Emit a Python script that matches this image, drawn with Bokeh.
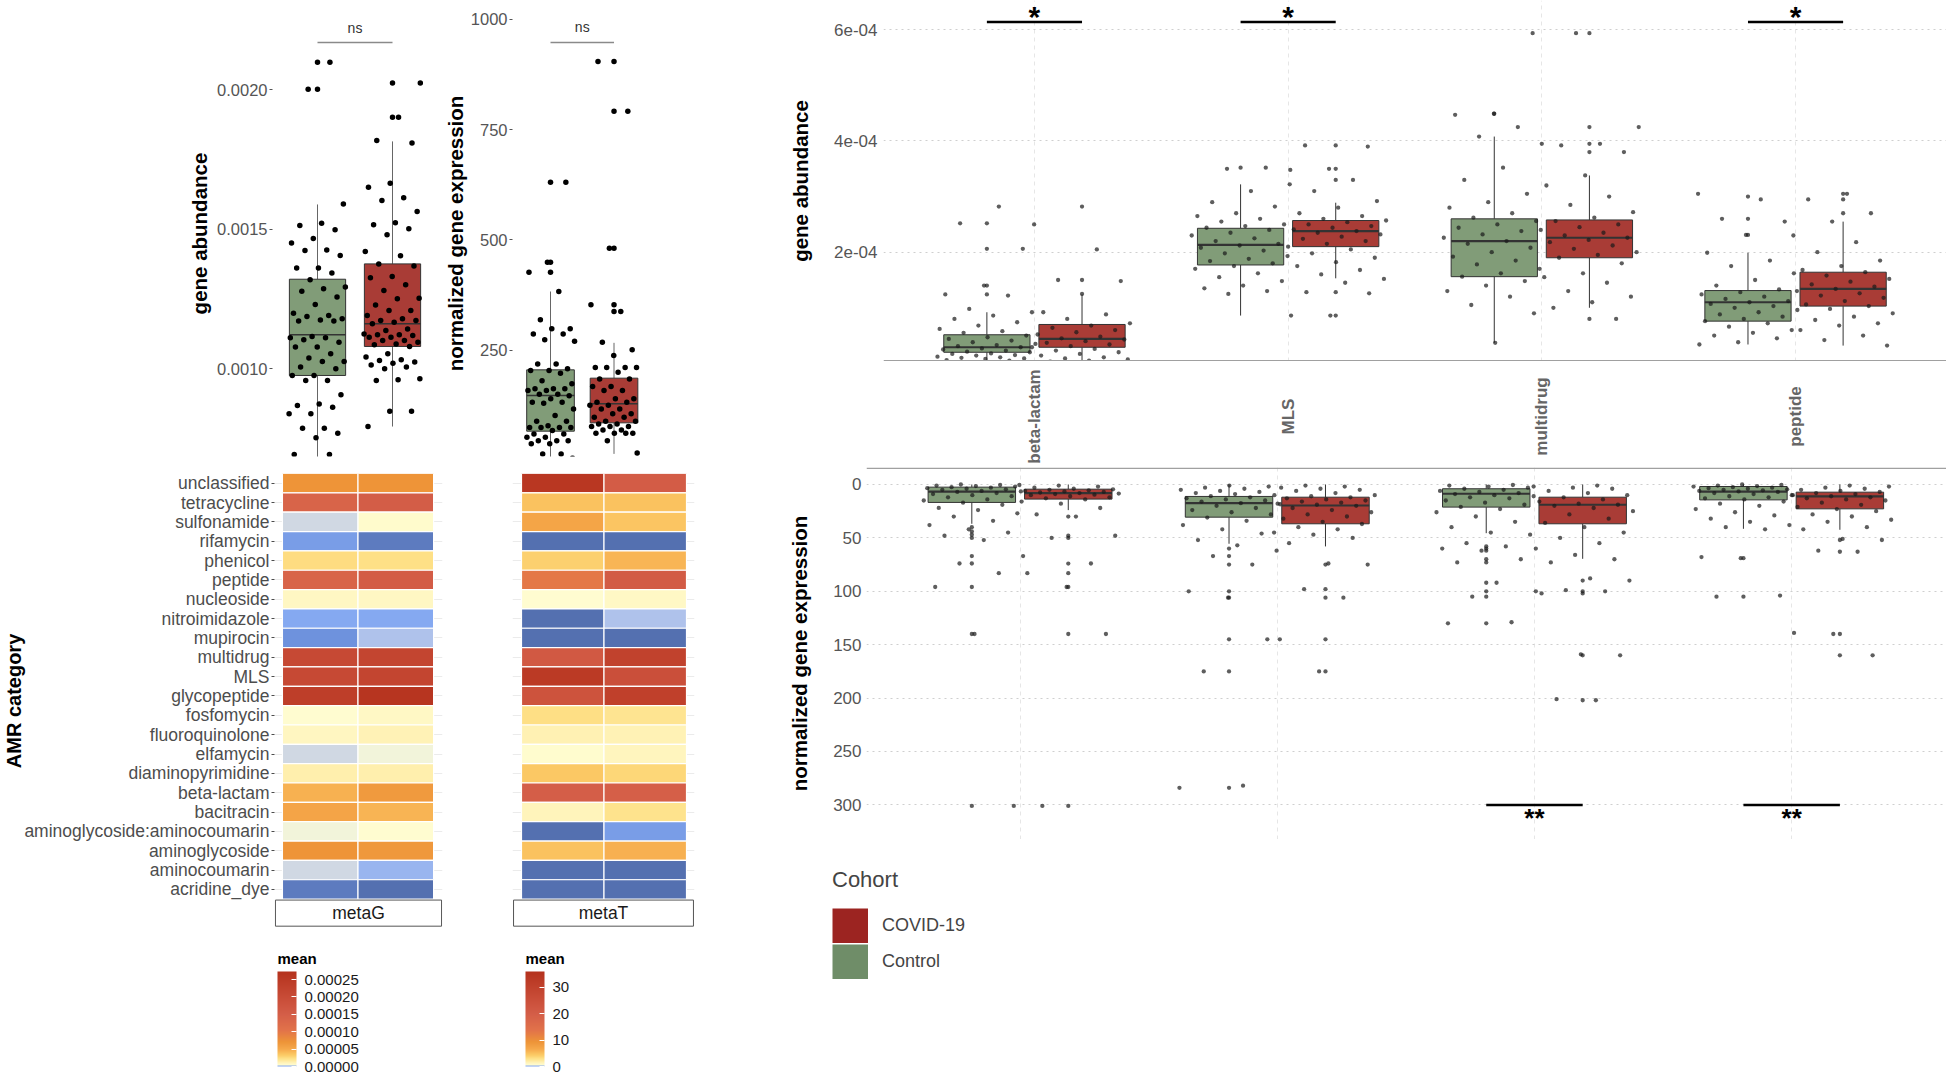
import math
from bokeh.plotting import figure
from bokeh.layouts import row, column
from bokeh.models import (Range1d, FixedTicker, LinearColorMapper, ColorBar, Legend,
                          LegendItem, PrintfTickFormatter, ColumnDataSource, Span, Grid, Label)
from bokeh.core.properties import value
from bokeh.embed import file_html
from bokeh.resources import INLINE

FONT = "Liberation Sans"

# ---------------------------------------------------------------- data
cohorts = ["Control", "COVID-19"]
box_fill = ["#819C78", "#A93C36"]
legend_title = "Cohort"
legend_labels = ["COVID-19", "Control"]
legend_swatch = ["#9C2421", "#6F8D68"]

# left top: total gene abundance (metaG)
gA_tick_values = [0.0010, 0.0015, 0.0020]
gA_tick_labels = ["0.0010", "0.0015", "0.0020"]
gA_ctrl_box = [0.00060, 0.000975, 0.001121, 0.001320, 0.001588]   # lo, q1, median, q3, hi
gA_cov_box = [0.000792, 0.001079, 0.001160, 0.001375, 0.001814]
gA_ctrl_out = [0.002098, 0.002001]
gA_cov_out = [0.002023, 0.001901]
gA_ctrl_pts = [0.002098, 0.002001, 0.001590, 0.001521, 0.001513, 0.001497, 0.001466, 0.001450,
               0.001425, 0.001423, 0.001405, 0.001360, 0.001360, 0.001342, 0.001318, 0.001292,
               0.001286, 0.001277, 0.001256, 0.001229, 0.001198, 0.001190, 0.001186, 0.001178,
               0.001174, 0.001170, 0.001170, 0.001115, 0.001110, 0.001110, 0.001103, 0.001094,
               0.001077, 0.001077, 0.001053, 0.001038, 0.001025, 0.001025, 0.001005, 0.000999,
               0.000975, 0.000975, 0.000957, 0.000957, 0.000906, 0.000873, 0.000867, 0.000861,
               0.000838, 0.000838, 0.000786, 0.000786, 0.000768, 0.000752, 0.000692, 0.000692,
               0.000650, 0.000620]
gA_cov_pts = [0.002023, 0.001901, 0.001817, 0.001808, 0.001664, 0.001650, 0.001612, 0.001602,
              0.001563, 0.001522, 0.001515, 0.001501, 0.001479, 0.001419, 0.001404, 0.001375,
              0.001367, 0.001330, 0.001325, 0.001300, 0.001280, 0.001252, 0.001250, 0.001228,
              0.001208, 0.001208, 0.001190, 0.001178, 0.001172, 0.001172, 0.001166, 0.001160,
              0.001142, 0.001136, 0.001124, 0.001121, 0.001121, 0.001118, 0.001112, 0.001112,
              0.001100, 0.001100, 0.001094, 0.001088, 0.001085, 0.001079, 0.001053, 0.001041,
              0.001031, 0.001029, 0.001023, 0.001019, 0.001013, 0.001005, 0.000999, 0.000963,
              0.000960, 0.000957, 0.000847, 0.000847, 0.000792]
gA_sig = "ns"

# left top: total normalized expression (metaT)
gB_tick_values = [250, 500, 750, 1000]
gB_ctrl_box = [0.0, 66.5, 147.4, 205.6, 383.2]
gB_cov_box = [15.0, 85.4, 128.5, 186.7, 266.8]
gB_ctrl_out = [631, 449.7, 427]
gB_cov_out = [904.8, 792, 481.5, 353, 338]
gB_ctrl_pts = [631, 449.7, 427, 383, 319, 298.5, 298.5, 287, 287, 274, 270.5, 219, 219, 208, 204,
               204, 198, 181, 174, 162.5, 162.5, 162.5, 159, 159, 150, 150, 147, 140, 132, 132, 130,
               117, 102, 89, 89, 79, 75, 75, 75, 75, 68, 60, 60, 53, 53, 45, 45, 45, 38, 38, 15, 15, 5]
gB_cov_pts = [904.8, 792, 481.5, 353, 338, 268, 251, 238, 211, 211, 211, 211, 200, 185, 185, 168,
              168, 159, 159, 140, 140, 132, 132, 125, 125, 117, 117, 106, 106, 98, 98, 89, 89, 83,
              83, 77, 77, 77, 69, 69, 62, 62, 62, 62, 45, 17]
gB_sig = "ns"

# heatmaps
amr_categories = ["unclassified", "tetracycline", "sulfonamide", "rifamycin", "phenicol", "peptide",
                  "nucleoside", "nitroimidazole", "mupirocin", "multidrug", "MLS", "glycopeptide",
                  "fosfomycin", "fluoroquinolone", "elfamycin", "diaminopyrimidine", "beta-lactam",
                  "bacitracin", "aminoglycoside:aminocoumarin", "aminoglycoside", "aminocoumarin",
                  "acridine_dye"]
facets = ["metaG", "metaT"]
metaG_mean_ctrl = [7.1e-5, 1.37e-4, 2.5e-6, 1.1e-6, 2.46e-5, 1.37e-4, 8.2e-6, 1.37e-6, 1.04e-6,
                   2.07e-4, 2.07e-4, 2.4e-4, 4.4e-6, 8.7e-6, 2.6e-6, 1.37e-5, 4.6e-5, 5.5e-5,
                   3.3e-6, 7.1e-5, 2.5e-6, 4.1e-7]
metaG_mean_cov = [7.1e-5, 1.53e-4, 5.5e-6, 4.6e-7, 2.3e-5, 1.56e-4, 8.0e-6, 1.37e-6, 1.9e-6,
                  2.18e-4, 2.18e-4, 2.65e-4, 7.6e-6, 1.15e-5, 3.3e-6, 1.37e-5, 6.5e-5, 4.4e-5,
                  4.4e-6, 6.7e-5, 1.8e-6, 1.9e-7]
metaT_mean_ctrl = [34.2, 4.9, 7.2, 0.01, 4.0, 13.0, 0.58, 0.01, 0.01, 21.6, 33.0, 23.8, 3.1, 1.6,
                   0.65, 4.5, 19.8, 1.37, 0.01, 4.9, 0.01, 0.01]
metaT_mean_cov = [20.5, 4.9, 4.7, 0.01, 5.8, 21.0, 1.0, 0.25, 0.01, 30.0, 25.2, 30.6, 2.7, 1.55,
                  1.26, 3.6, 19.5, 2.8, 0.144, 6.1, 0.01, 0.01]
metaG_scale_max = 0.000273
metaT_scale_max = 36.0
metaG_cbar_ticks = [0.0, 0.00005, 0.0001, 0.00015, 0.0002, 0.00025]
metaT_cbar_ticks = [0, 10, 20, 30]
heat_legend_title = "mean"
heat_anchor_pos = [0.0, 0.003, 0.005, 0.007, 0.009, 0.011, 0.014, 0.04, 0.08, 0.12, 0.18, 0.26,
                   0.38, 0.55, 0.75, 1.0]
heat_anchor_col = ["#5470B0", "#6F93DE", "#86AAF2", "#B3C4EA", "#D3DAE2", "#EEF1DC", "#FFFDD2",
                   "#FFF3B8", "#FEE28A", "#FCCB66", "#F6AA4C", "#EE9438", "#E2734A", "#D45E48",
                   "#C74A35", "#B5321D"]

# right: per-category boxplots
right_categories = ["beta-lactam", "MLS", "multidrug", "peptide"]
ABUND_UNIT = 1e-4   # abundance values below are in units of 1e-4
abund_tick_values = [2e-4, 4e-4, 6e-4]
abund_tick_labels = ["2e-04", "4e-04", "6e-04"]
abund_ctrl_lo = [0.05, 0.86, 0.37, 0.34]
abund_ctrl_q1 = [0.20, 1.77, 1.56, 0.76]
abund_ctrl_med = [0.29, 2.13, 2.20, 1.10]
abund_ctrl_q3 = [0.515, 2.43, 2.60, 1.31]
abund_ctrl_hi = [0.92, 3.22, 4.08, 1.99]
abund_cov_lo = [0.03, 1.53, 1.00, 0.32]
abund_cov_q1 = [0.29, 2.10, 1.90, 1.03]
abund_cov_med = [0.44, 2.38, 2.26, 1.34]
abund_cov_q3 = [0.70, 2.57, 2.58, 1.64]
abund_cov_hi = [1.24, 2.89, 3.38, 2.55]
abund_ctrl_out = [[2.52, 2.06, 1.40, 1.24], [3.52], [4.49], [3.00, 2.60, 2.31]]
abund_cov_out = [[2.82, 1.50], [3.92, 3.50, 3.30, 1.28, 0.86], [5.94, 4.25, 3.95, 3.80, 0.80],
                 [3.05, 2.95, 2.70]]
abund_ctrl_pts = [
    [2.82, 2.52, 2.06, 1.40, 1.24, 1.22, 0.98, 0.92, 0.86, 0.80, 0.74, 0.68, 0.62, 0.58, 0.55, 0.50,
     0.47, 0.44, 0.41, 0.38, 0.35, 0.33, 0.31, 0.29, 0.27, 0.25, 0.23, 0.21, 0.20, 0.18, 0.17, 0.15,
     0.14, 0.12, 0.11, 0.10, 0.09, 0.08, 0.06, 0.05],
    [3.52, 3.50, 3.22, 3.10, 2.90, 2.82, 2.70, 2.65, 2.60, 2.55, 2.50, 2.47, 2.44, 2.40, 2.35, 2.30,
     2.25, 2.20, 2.15, 2.12, 2.08, 2.03, 1.98, 1.93, 1.88, 1.84, 1.80, 1.75, 1.70, 1.62, 1.55, 1.48,
     1.40, 1.35, 1.30, 1.25, 0.86],
    [5.94, 4.49, 4.47, 4.25, 4.08, 3.95, 3.52, 3.30, 3.05, 2.90, 2.80, 2.70, 2.62, 2.56, 2.50, 2.44,
     2.38, 2.32, 2.26, 2.20, 2.15, 2.08, 2.00, 1.92, 1.85, 1.78, 1.70, 1.62, 1.56, 1.48, 1.40, 1.30,
     1.20, 1.05, 0.90, 0.37],
    [3.05, 2.95, 2.60, 2.55, 2.31, 1.99, 1.85, 1.75, 1.62, 1.50, 1.40, 1.33, 1.28, 1.24, 1.20, 1.16,
     1.12, 1.10, 1.07, 1.03, 1.00, 0.96, 0.92, 0.88, 0.84, 0.80, 0.76, 0.72, 0.66, 0.60, 0.55, 0.50,
     0.45, 0.38, 0.34],
]
abund_cov_pts = [
    [2.50, 2.05, 1.50, 1.48, 1.25, 0.92, 0.88, 0.80, 0.72, 0.68, 0.64, 0.60, 0.56, 0.52, 0.48, 0.45,
     0.43, 0.40, 0.37, 0.34, 0.31, 0.29, 0.26, 0.23, 0.20, 0.17, 0.14, 0.11, 0.09, 0.07, 0.05, 0.03],
    [3.92, 3.90, 3.50, 3.48, 3.30, 3.10, 2.92, 2.80, 2.70, 2.65, 2.60, 2.57, 2.54, 2.50, 2.47, 2.44,
     2.41, 2.38, 2.35, 2.32, 2.28, 2.24, 2.20, 2.15, 2.10, 2.05, 1.98, 1.90, 1.82, 1.75, 1.68, 1.60,
     1.52, 1.45, 1.28, 1.26, 0.86],
    [5.94, 4.25, 3.95, 3.92, 3.80, 3.38, 3.20, 3.00, 2.85, 2.72, 2.62, 2.56, 2.50, 2.45, 2.40, 2.35,
     2.30, 2.26, 2.22, 2.18, 2.12, 2.06, 2.00, 1.95, 1.90, 1.80, 1.62, 1.55, 1.45, 1.30, 1.20, 1.10,
     1.00, 0.80],
    [3.05, 2.95, 2.70, 2.55, 2.30, 2.18, 2.00, 1.85, 1.75, 1.68, 1.64, 1.58, 1.52, 1.47, 1.42, 1.38,
     1.34, 1.30, 1.26, 1.22, 1.18, 1.12, 1.06, 1.03, 0.98, 0.90, 0.84, 0.78, 0.72, 0.68, 0.60, 0.50,
     0.42, 0.32],
]
abund_sig = ["*", "*", "", "*"]

expr_tick_values = [0, 50, 100, 150, 200, 250, 300]
expr_ctrl_lo = [0, 0, 0, 0]
expr_ctrl_q1 = [2.5, 11.2, 4.0, 1.9]
expr_ctrl_med = [6.6, 17.5, 8.7, 6.6]
expr_ctrl_q3 = [16.8, 30.6, 21.2, 14.4]
expr_ctrl_hi = [36.8, 55.5, 45.6, 41.5]
expr_cov_lo = [0, 0, 0, 0]
expr_cov_q1 = [4.4, 11.9, 11.9, 7.2]
expr_cov_med = [8.1, 19.7, 19.0, 11.2]
expr_cov_q3 = [13.7, 36.8, 36.8, 22.8]
expr_cov_hi = [24.0, 58.0, 69.6, 42.4]
expr_ctrl_out = [[301, 140, 96, 74, 67, 50, 47, 44, 40], [284, 175, 145, 106, 100, 75, 67, 60],
                 [130, 105, 100, 92, 73, 70, 62, 60, 58], [105, 69]]
expr_cov_out = [[301, 140, 96, 83, 74, 50, 48, 30], [175, 145, 106, 98, 75],
                [202, 160, 102, 100, 90], [160, 140, 63, 52]]
expr_ctrl_pts = [
    [301, 140, 96, 83, 74, 67, 52, 48, 45, 42, 38, 34, 30, 27, 24, 22, 19, 17, 15, 14, 12, 11, 10,
     9, 8, 7, 6.5, 6, 5, 4.5, 4, 3.5, 3, 2.5, 2, 1.5, 1, 0.5, 0],
    [284, 282, 175, 145, 106, 100, 75, 67, 62, 57, 52, 46, 42, 38, 34, 31, 28, 26, 24, 22, 20,
     18.5, 17.5, 16, 15, 14, 13, 12, 11, 10, 9, 8, 7, 6, 5, 4, 3, 2, 1],
    [130, 129, 105, 100, 92, 73, 70, 62, 60, 58, 55, 47, 45, 40, 35, 30, 26, 23, 21, 19, 17, 15,
     13, 12, 11, 10, 9, 8, 7, 6, 5, 4, 3, 2, 1, 0.5],
    [105, 104, 69, 68, 42, 40, 38, 35, 32, 29, 26, 23, 20, 18, 16, 14, 13, 12, 11, 10, 9, 8, 7,
     6.5, 6, 5.5, 5, 4.5, 4, 3.5, 3, 2.5, 2, 1.5, 1, 0.5, 0],
]
expr_cov_pts = [
    [301, 140, 96, 83, 74, 50, 48, 30, 28, 22, 18, 16, 14, 13, 12, 11, 10, 9.5, 9, 8.5, 8, 7.5, 7,
     6.5, 6, 5.5, 5, 4.5, 4, 3, 2, 1, 0.5],
    [175, 145, 106, 98, 75, 74, 55, 50, 47, 45, 42, 40, 37, 35, 32, 30, 28, 26, 24, 22, 20, 19, 18,
     17, 16, 15, 14, 13, 12, 11, 10, 8, 6, 5, 4, 3, 2, 1],
    [202, 201, 160, 159, 102, 100, 99, 90, 88, 73, 70, 66, 60, 55, 50, 45, 40, 36, 32, 28, 25, 22,
     20, 19, 18, 16, 14, 12, 10, 8, 6, 4, 3, 2, 1],
    [160, 140, 139, 63, 62, 52, 51, 42, 40, 35, 33, 30, 28, 25, 23, 21, 19, 17, 15, 14, 13, 12, 11,
     10, 9, 8, 7, 6, 5, 4, 3, 2, 1],
]
expr_sig = ["", "", "**", "**"]


# ---------------------------------------------------------------- helpers
def make_fig(w, h, xr, yr, bl, br, bt, bb, xloc=None, yloc="left"):
    p = figure(width=w, height=h, x_range=xr, y_range=yr, output_backend="svg",
               toolbar_location=None, tools="", min_border_left=bl, min_border_right=br,
               min_border_top=bt, min_border_bottom=bb, x_axis_location=xloc,
               y_axis_location=yloc)
    p.outline_line_color = None
    p.grid.visible = False
    p.background_fill_color = "white"
    p.border_fill_color = "white"
    return p


def style_yaxis(p, title, ticks, size, standoff, tick_out, label_standoff, color="#555555"):
    ax = p.yaxis
    ax.axis_label = title
    ax.axis_label_text_font = FONT
    ax.axis_label_text_font_size = "20.5px"
    ax.axis_label_text_font_style = "bold"
    ax.axis_label_text_color = "black"
    ax.axis_label_standoff = standoff
    ax.ticker = FixedTicker(ticks=ticks)
    ax.major_label_text_font = FONT
    ax.major_label_text_font_size = size
    ax.major_label_text_color = color
    ax.major_label_standoff = label_standoff
    ax.major_tick_out = tick_out
    ax.major_tick_in = 0
    ax.major_tick_line_color = "#555555" if tick_out else None
    ax.minor_tick_line_color = None
    ax.axis_line_color = None


def jitter(n, half, phase=0.0):
    return [(((i + 1) * 0.6180339887 + phase) % 1.0 - 0.5) * 2.0 * half for i in range(n)]


def draw_group(p, x, box, outliers, pts, width, fill, pt_size, pt_color, pt_alpha, jit_half,
               line_color, whisk_color, med_w, phase, scale=1.0):
    lo, q1, med, q3, hi = [b * scale for b in box]
    p.segment(x0=[x, x], y0=[q3, q1], x1=[x, x], y1=[hi, lo], line_color=whisk_color,
              line_width=1)
    p.vbar(x=[x], width=width, bottom=[q1], top=[q3], fill_color=fill, line_color=line_color,
           line_width=1)
    p.segment(x0=[x - width / 2], y0=[med], x1=[x + width / 2], y1=[med], line_color=line_color,
              line_width=med_w)
    if outliers:
        p.scatter(x=[x] * len(outliers), y=[o * scale for o in outliers], size=pt_size,
                  fill_color=pt_color, line_color=None, fill_alpha=pt_alpha)
    offs = jitter(len(pts), jit_half, phase)
    p.scatter(x=[x + o for o in offs], y=[v * scale for v in pts], size=pt_size,
              fill_color=pt_color, line_color=None, fill_alpha=pt_alpha)


def build_palette(pos, cols, n=1024):
    rgb = [tuple(int(c[i:i + 2], 16) for i in (1, 3, 5)) for c in cols]
    out = []
    for k in range(n):
        f = k / (n - 1)
        j = 0
        while j < len(pos) - 2 and f > pos[j + 1]:
            j += 1
        t = (f - pos[j]) / (pos[j + 1] - pos[j])
        t = min(max(t, 0.0), 1.0)
        c = tuple(int(round(rgb[j][m] + (rgb[j + 1][m] - rgb[j][m]) * t)) for m in range(3))
        out.append("#%02x%02x%02x" % c)
    return out


# ---------------------------------------------------------------- panel A (metaG box)
cohort_x = [i + 1 for i in range(len(cohorts))]
pA = make_fig(440, 462, Range1d(0.4, 2.6), Range1d(0.0006846, 0.0022832), 272, 3, 10, 6)
style_yaxis(pA, "gene abundance", gA_tick_values, "16.5px", 3, 3, 2)
pA.yaxis.major_label_overrides = dict(zip(gA_tick_values, gA_tick_labels))
for x, box, out, pts, col, ph in [(cohort_x[0], gA_ctrl_box, gA_ctrl_out, gA_ctrl_pts, box_fill[0], 0.1),
                                  (cohort_x[1], gA_cov_box, gA_cov_out, gA_cov_pts, box_fill[1], 0.37)]:
    draw_group(pA, x, box, out, pts, 0.75, col, 5.5, "black", 1.0, 0.38, "#333333", "#666666", 1.5, ph)
pA.segment(x0=[cohort_x[0]], x1=[cohort_x[1]], y0=[0.0021685], y1=[0.0021685],
           line_color="#8A8A8A", line_width=1.3)
pA.text(x=[sum(cohort_x) / 2], y=[0.0022222], text=[gA_sig], text_align="center",
        text_baseline="middle", text_font=value(FONT), text_font_size="14px", text_color="#333333")

# ---------------------------------------------------------------- panel B (metaT box)
pB = make_fig(320, 462, Range1d(0.4016, 2.606), Range1d(9.07, 1020.4), 72, 108, 10, 6)
style_yaxis(pB, "normalized gene expression", gB_tick_values, "16.5px", 1, 3, 2)
for x, box, out, pts, col, ph in [(cohort_x[0], gB_ctrl_box, gB_ctrl_out, gB_ctrl_pts, box_fill[0], 0.2),
                                  (cohort_x[1], gB_cov_box, gB_cov_out, gB_cov_pts, box_fill[1], 0.55)]:
    draw_group(pB, x, box, out, pts, 0.75, col, 5.5, "black", 1.0, 0.38, "#333333", "#666666", 1.5, ph)
pB.segment(x0=[cohort_x[0]], x1=[cohort_x[1]], y0=[947.8], y1=[947.8],
           line_color="#8A8A8A", line_width=1.3)
pB.text(x=[sum(cohort_x) / 2], y=[981.9], text=[gB_sig], text_align="center",
        text_baseline="middle", text_font=value(FONT), text_font_size="14px", text_color="#333333")

# ---------------------------------------------------------------- heatmaps
palette = build_palette(heat_anchor_pos, heat_anchor_col)
mapG = LinearColorMapper(palette=palette, low=0, high=metaG_scale_max)
mapT = LinearColorMapper(palette=palette, low=0, high=metaT_scale_max)
n_cat = len(amr_categories)
ypos = [n_cat - 1 - i for i in range(n_cat)]


def heat_fig(w, bl, br, xr, m_ctrl, m_cov, mapper, facet, show_y):
    p = make_fig(w, 478, xr, Range1d(-2.02, 21.5), bl, br, 11, 12, xloc=None,
                 yloc="left" if show_y else None)
    p.add_layout(Grid(dimension=1, ticker=FixedTicker(ticks=ypos), grid_line_color="#EBEBEB"))
    xs, ys, vals = [], [], []
    for i, cat in enumerate(amr_categories):
        for j, m in enumerate([m_ctrl, m_cov]):
            xs.append(cohort_x[j])
            ys.append(ypos[i])
            vals.append(m[i])
    src = ColumnDataSource(dict(x=xs, y=ys, v=vals))
    p.rect(x="x", y="y", width=1, height=1, source=src,
           fill_color={"field": "v", "transform": mapper}, line_color="white", line_width=1.2)
    xc = (xr.start + xr.end) / 2
    p.rect(x=[xc], y=[-1.225], width=(xr.end - xr.start) - 0.025, height=1.35,
           fill_color="white", line_color="#555555", line_width=1)
    p.text(x=[xc], y=[-1.225], text=[facet], text_align="center", text_baseline="middle",
           text_font=value(FONT), text_font_size="17.5px", text_color="#1A1A1A")
    if show_y:
        ax = p.yaxis
        ax.ticker = FixedTicker(ticks=ypos)
        ax.major_label_overrides = {ypos[i]: c for i, c in enumerate(amr_categories)}
        ax.major_label_text_font = FONT
        ax.major_label_text_font_size = "17.5px"
        ax.major_label_text_color = "#4D4D4D"
        ax.major_label_standoff = 2
        ax.major_tick_out = 3
        ax.major_tick_in = 0
        ax.major_tick_line_color = "#4D4D4D"
        ax.minor_tick_line_color = None
        ax.axis_line_color = None
        ax.axis_label = "AMR category"
        ax.axis_label_text_font = FONT
        ax.axis_label_text_font_size = "20px"
        ax.axis_label_text_font_style = "bold"
        ax.axis_label_text_color = "black"
        ax.axis_label_standoff = -4
    return p


hG = heat_fig(480, 272, 38, Range1d(0.395, 2.618), metaG_mean_ctrl, metaG_mean_cov, mapG,
              facets[0], True)
hT = heat_fig(280, 32, 66, Range1d(0.391, 2.597), metaT_mean_ctrl, metaT_mean_cov, mapT,
              facets[1], False)


# ---------------------------------------------------------------- heat legends
def cbar_fig(w, mapper, ticks, fmt, xloc):
    p = make_fig(w, 134, Range1d(0, 1), Range1d(0, 1), 0, 0, 0, 0, xloc=None, yloc=None)
    kw = {}
    if fmt:
        kw["formatter"] = PrintfTickFormatter(format=fmt)
    cb = ColorBar(color_mapper=mapper, location=(xloc, 8), width=19, height=95,
                  ticker=FixedTicker(ticks=ticks), major_label_text_font=FONT,
                  major_label_text_font_size="15px", major_label_text_color="#1A1A1A",
                  label_standoff=8, major_tick_line_color="white", major_tick_in=5,
                  major_tick_out=0, minor_tick_line_color=None, bar_line_color=None,
                  padding=0, margin=0, background_fill_alpha=0, border_line_color=None, **kw)
    p.add_layout(cb)
    p.add_layout(Label(x=xloc, y=116, x_units="screen", y_units="screen", text=heat_legend_title,
                       text_font=FONT, text_font_size="15px", text_font_style="bold",
                       text_baseline="middle", text_color="black"))
    return p


lG = cbar_fig(480, mapG, metaG_cbar_ticks, "%.5f", 277)
lT = cbar_fig(280, mapT, metaT_cbar_ticks, None, 45)

# ---------------------------------------------------------------- right top (abundance)
cat_x = [i + 1 for i in range(len(right_categories))]
DODGE = 0.1875
xrC = Range1d(0.405, 4.595)
pC = make_fig(1186, 361, xrC, Range1d(0.034e-4, 6.527e-4), 123, 0, 0, 0)
style_yaxis(pC, "gene abundance", abund_tick_values, "17px", 19, 0, 6)
pC.yaxis.major_label_overrides = dict(zip(abund_tick_values, abund_tick_labels))
pC.ygrid.visible = True
pC.ygrid.ticker = FixedTicker(ticks=abund_tick_values)
pC.ygrid.grid_line_color = "#CFCFCF"
pC.ygrid.grid_line_dash = "dotted"
pC.xgrid.visible = True
pC.xgrid.ticker = FixedTicker(ticks=cat_x)
pC.xgrid.grid_line_color = "#E6E6E6"
pC.xgrid.grid_line_dash = "4 4"
for k, cx in enumerate(cat_x):
    draw_group(pC, cx - DODGE,
               [abund_ctrl_lo[k], abund_ctrl_q1[k], abund_ctrl_med[k], abund_ctrl_q3[k], abund_ctrl_hi[k]],
               abund_ctrl_out[k], abund_ctrl_pts[k], 0.34, box_fill[0], 4.3, "#1A1A1A", 0.7, 0.2,
               "#333333", "#333333", 2.2, 0.13 * k, ABUND_UNIT)
    draw_group(pC, cx + DODGE,
               [abund_cov_lo[k], abund_cov_q1[k], abund_cov_med[k], abund_cov_q3[k], abund_cov_hi[k]],
               abund_cov_out[k], abund_cov_pts[k], 0.34, box_fill[1], 4.3, "#1A1A1A", 0.7, 0.2,
               "#333333", "#333333", 2.2, 0.41 + 0.17 * k, ABUND_UNIT)
sig_x = [cx for cx, s in zip(cat_x, abund_sig) if s]
sig_t = [s for s in abund_sig if s]
pC.segment(x0=[x - DODGE for x in sig_x], x1=[x + DODGE for x in sig_x], y0=[6.14e-4] * len(sig_x),
           y1=[6.14e-4] * len(sig_x), line_color="black", line_width=2.5)
pC.text(x=sig_x, y=[6.24e-4] * len(sig_x), text=sig_t, text_align="center", text_baseline="middle",
        text_font=value(FONT), text_font_size="30px", text_font_style="bold", text_color="black")
pC.add_layout(Span(location=0.047e-4, dimension="width", line_color="#A0A0A0", line_width=1.5))

# ---------------------------------------------------------------- category label strip
pL = make_fig(1186, 106, xrC, Range1d(-51, 55), 123, 0, 0, 0, xloc=None, yloc=None)
pL.text(x=cat_x, y=[0] * len(cat_x), text=right_categories, angle=math.pi / 2,
        text_align="center", text_baseline="middle", text_font=value(FONT),
        text_font_size="17px", text_font_style="bold", text_color="#666666")

# ---------------------------------------------------------------- right bottom (expression)
xrD = Range1d(0.403, 4.602)
pD = make_fig(1186, 372, xrD, Range1d(332.4, -15.9), 106, 0, 0, 0)
style_yaxis(pD, "normalized gene expression", expr_tick_values, "17px", 19, 0, 5)
pD.ygrid.visible = True
pD.ygrid.ticker = FixedTicker(ticks=expr_tick_values)
pD.ygrid.grid_line_color = "#CFCFCF"
pD.ygrid.grid_line_dash = "dotted"
pD.xgrid.visible = True
pD.xgrid.ticker = FixedTicker(ticks=cat_x)
pD.xgrid.grid_line_color = "#E6E6E6"
pD.xgrid.grid_line_dash = "4 4"
for k, cx in enumerate(cat_x):
    draw_group(pD, cx - DODGE,
               [expr_ctrl_lo[k], expr_ctrl_q1[k], expr_ctrl_med[k], expr_ctrl_q3[k], expr_ctrl_hi[k]],
               expr_ctrl_out[k], expr_ctrl_pts[k], 0.34, box_fill[0], 4.3, "#1A1A1A", 0.7, 0.2,
               "#333333", "#333333", 2.2, 0.29 + 0.11 * k)
    draw_group(pD, cx + DODGE,
               [expr_cov_lo[k], expr_cov_q1[k], expr_cov_med[k], expr_cov_q3[k], expr_cov_hi[k]],
               expr_cov_out[k], expr_cov_pts[k], 0.34, box_fill[1], 4.3, "#1A1A1A", 0.7, 0.2,
               "#333333", "#333333", 2.2, 0.63 + 0.19 * k)
sig_x = [cx for cx, s in zip(cat_x, expr_sig) if s]
sig_t = [s for s in expr_sig if s]
pD.segment(x0=[x - DODGE for x in sig_x], x1=[x + DODGE for x in sig_x], y0=[300] * len(sig_x),
           y1=[300] * len(sig_x), line_color="black", line_width=2.5)
pD.text(x=sig_x, y=[312.7] * len(sig_x), text=sig_t, text_align="center", text_baseline="middle",
        text_font=value(FONT), text_font_size="26px", text_font_style="bold", text_color="black")
pD.add_layout(Span(location=-15.3, dimension="width", line_color="#A0A0A0", line_width=1.5))

# ---------------------------------------------------------------- cohort legend
pLeg = make_fig(1186, 235, Range1d(0, 1), Range1d(0, 1), 0, 0, 0, 0, xloc=None, yloc=None)
items = []
for lab, col in zip(legend_labels, legend_swatch):
    r = pLeg.line(x=[5, 6], y=[5, 5], line_width=35, line_color=col, line_cap="butt")
    items.append(LegendItem(label=lab, renderers=[r]))
leg = Legend(items=items, location=(72, 95), title=legend_title, title_text_font=FONT,
             title_text_font_size="22px", title_text_font_style="normal", title_standoff=15,
             label_text_font=FONT, label_text_font_size="18px", glyph_width=36, glyph_height=35,
             label_standoff=14, spacing=1, padding=0, margin=0, border_line_color=None,
             background_fill_alpha=0)
pLeg.add_layout(leg)

left = column(row(pA, pB), row(hG, hT), row(lG, lT))
right = column(row(pC), row(pL), row(pD), row(pLeg))
layout = row(left, right)

open("out.html", "w").write(file_html(layout, INLINE, title="AMR"))
